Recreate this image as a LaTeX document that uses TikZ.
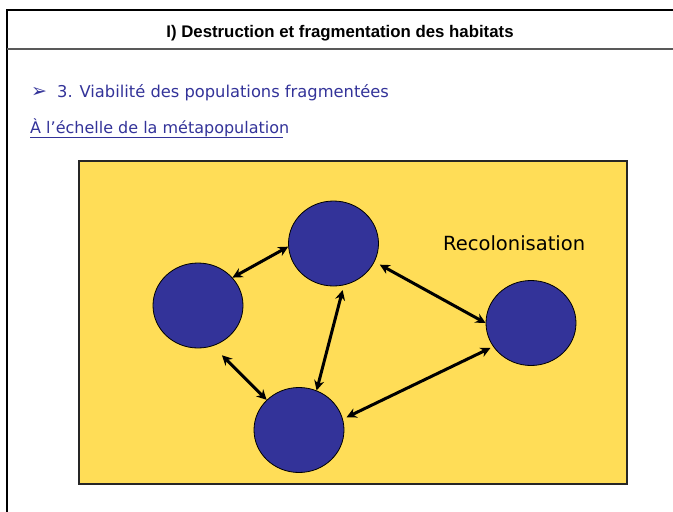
\documentclass[tikz,border=0pt]{standalone}
\usepackage{fontspec}
\setmainfont{DejaVu Sans}
\newfontfamily\headfont{Liberation Sans}
\usetikzlibrary{positioning,shapes.geometric,arrows.meta,calc}
\definecolor{patchblue}{RGB}{51,51,153}
\definecolor{habitat}{RGB}{255,221,87}

\begin{document}
\begin{tikzpicture}[
x=1pt,y=-1pt,
mypatch/.style={
  draw,
  ellipse,
  fill=patchblue,
  line width=0.8pt,
  minimum width=90pt,
  minimum height=85pt,
  inner sep=0pt},
myarrow/.style={
  {Stealth[length=10pt,width=10pt]}-{Stealth[length=10pt,width=10pt]},
  line width=3pt},
mytext/.style={
  inner sep=0pt,
  anchor=base west}
]
\useasboundingbox (0,0) rectangle (673,512);
% cadre de la diapositive
\draw[line width=2.5pt] (673,10) -- (7,10) -- (7,512);
\draw[line width=2pt,gray!70!black] (7,49) -- (673,49);
\node[inner sep=0pt,anchor=base,font=\headfont\bfseries\fontsize{16.8}{18}\selectfont]
  (titre) at (340,37.5) {I) Destruction et fragmentation des habitats};
\node[mytext,text=patchblue,font=\fontsize{19}{20}\selectfont]
  (puce) at (31,97) {➢};
\node[mytext,text=patchblue,font=\fontsize{16.3}{18}\selectfont]
  (soustitre) at (57,97) {3. Viabilité des populations fragmentées};
\node[mytext,text=patchblue,font=\fontsize{16}{18}\selectfont]
  (echelle) at (30,133) {À l’échelle de la métapopulation};
\draw[patchblue,line width=1pt]
  ($(echelle.base west)+(0,4)$) -- ($(echelle.base east)+(-6,4)$);
% habitat
\draw[fill=habitat,draw=black!85,line width=1.2pt] (79,161) rectangle (627,484);
\node[mytext,font=\fontsize{19.5}{22}\selectfont] (recol) at (443,250) {Recolonisation};
% taches d'habitat
\node[mypatch] (T) at (333.5,243.5) {};
\node[mypatch] (L) at (198,305.5) {};
\node[mypatch] (B) at (299,430) {};
\node[mypatch] (R) at (531,323) {};
\draw[myarrow] (L.39) -- (T.184);
\draw[myarrow,shorten <=13pt] (L.-70) -- (B.137);
\draw[myarrow,shorten <=5pt] (T.-76) -- (B.66);
\draw[myarrow,shorten <=6pt] (T.-24) -- (R.180);
\draw[myarrow,shorten <=4pt,shorten >=3pt] (B.14) -- (R.-148);
\end{tikzpicture}
\end{document}
